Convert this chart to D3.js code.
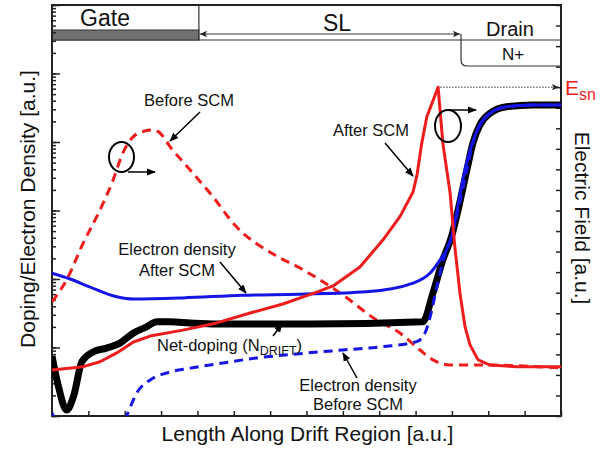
<!DOCTYPE html>
<html>
<head>
<meta charset="utf-8">
<script src="https://cdn.jsdelivr.net/npm/d3@7"></script>
<style>
  body { margin: 0; background: #fff; }
  svg { font-family: Arial, "Liberation Sans", sans-serif; }
</style>
</head>
<body>
<svg id="chart" width="605" height="453"></svg>
<script>
// Values: [position along drift region, value]
// left axis (log): doping / electron density, right axis (linear): electric field
const netDoping = [
  [0, 7.5], [0.17, 2.8], [0.40, 1.22], [0.6, 2.0], [0.82, 6.2], [1.13, 8.6],
  [1.50, 9.8], [1.87, 11.6], [2.23, 16.2], [2.60, 20], [2.88, 23.8], [3.25, 23.8],
  [3.80, 22.8], [4.53, 22.0], [7.10, 22.0], [10.2, 23.8], [10.48, 63], [10.75, 190],
  [10.99, 417], [11.17, 1020], [11.41, 3890], [11.58, 9770], [11.77, 17800],
  [12.05, 26300], [12.5, 32700], [13.23, 34700], [14, 34700]
];

const electronAfter = [
  [0, 122], [0.5, 100], [1.05, 76], [1.78, 55], [2.23, 51], [3.6, 53], [5.25, 58],
  [6.82, 60], [8.65, 65], [9.93, 87], [10.40, 122], [10.67, 189], [10.89, 293],
  [11.02, 470], [11.13, 919], [11.30, 2790], [11.50, 7590], [11.77, 17800],
  [12.05, 26300], [12.5, 32700], [13.23, 34700], [14, 34700]
];

const electronBefore = [
  [0, 1.1], [0.22, 0.63], [1.32, 0.16], [1.93, 0.74], [2.05, 1.0], [2.33, 2.17],
  [2.70, 3.36], [3.15, 4.25], [3.80, 5.0], [4.70, 5.94], [5.63, 7.03], [7.00, 8.3],
  [8.00, 9.2], [9.10, 10.3], [10.03, 12.2], [10.26, 16.3], [10.40, 27.9], [10.58, 74],
  [10.75, 178], [10.99, 417], [11.17, 1020], [11.41, 3890], [11.58, 9770],
  [11.77, 17800], [12.05, 26300], [12.5, 32700], [13.23, 34700], [14, 34700]
];

const fieldBefore = [
  [0, 5.55], [0.40, 6.62], [0.86, 8.42], [1.32, 10.02], [1.68, 11.48], [1.95, 12.8],
  [2.23, 13.58], [2.56, 13.87], [2.78, 13.92], [2.97, 13.77], [3.25, 13.1], [3.80, 11.97],
  [4.43, 10.66], [5.03, 9.29], [6.08, 7.88], [6.82, 7.20], [7.92, 5.99], [8.93, 4.67],
  [9.57, 4.04], [10.12, 3.21], [10.48, 2.73], [10.95, 2.48], [11.85, 2.48], [14, 2.34]
];

const fieldAfter = [
  [0, 2.24], [0.86, 2.40], [1.32, 2.64], [1.78, 3.07], [2.24, 3.60], [2.70, 3.89],
  [3.60, 4.18], [4.53, 4.53], [5.45, 5.01], [6.35, 5.45], [7.28, 6.03], [7.73, 6.33],
  [8.47, 7.25], [9.10, 8.56], [9.57, 9.70], [9.93, 10.90], [10.04, 11.73], [10.17, 13.28],
  [10.31, 14.56], [10.62, 16.0], [10.75, 13.28], [10.95, 10.85], [11.08, 8.24],
  [11.22, 5.99], [11.36, 4.35], [11.50, 3.45], [11.72, 2.73], [12.05, 2.48],
  [12.78, 2.40], [14, 2.40]
];

const majorDecades = [1, 10, 100, 1e3, 1e4, 1e5, 1e6];
const gateEnd = 4.04;      // end of gate region
const drainStart = 11.25;  // start of N+ drain

const svg = d3.select("#chart");
const plotLeft = 52, plotRight = 561, plotTop = 5, plotBottom = 416;

const x = d3.scaleLinear().domain([0, 14]).range([plotLeft, plotRight]);
const yLeft = d3.scaleLog().domain([1, 1e6]).range([plotBottom, plotTop]);
const yRight = d3.scaleLinear().domain([0, 20]).range([plotBottom, plotTop]);

// markers
const defs = svg.append("defs");
defs.append("marker")
  .attr("id", "arrow")
  .attr("viewBox", "0 0 10 10")
  .attr("refX", 9).attr("refY", 5)
  .attr("markerWidth", 9).attr("markerHeight", 9)
  .attr("markerUnits", "userSpaceOnUse")
  .attr("orient", "auto-start-reverse")
  .append("path").attr("d", "M0,1 L10,5 L0,9 Z").attr("fill", "#000");
defs.append("marker")
  .attr("id", "chevron")
  .attr("viewBox", "0 0 10 10")
  .attr("refX", 9).attr("refY", 5)
  .attr("markerWidth", 9).attr("markerHeight", 9)
  .attr("markerUnits", "userSpaceOnUse")
  .attr("orient", "auto-start-reverse")
  .append("path").attr("d", "M1,1.5 L9,5 L1,8.5 L3,5 Z").attr("fill", "#222");
defs.append("clipPath").attr("id", "plot-clip")
  .append("rect")
  .attr("x", plotLeft).attr("y", plotTop)
  .attr("width", plotRight - plotLeft).attr("height", plotBottom - plotTop);

// Draw header (gate / SL / drain)
const header = svg.append("g").attr("stroke", "#333").attr("fill", "none");
header.append("line")
  .attr("x1", plotLeft).attr("x2", plotRight).attr("y1", 40).attr("y2", 40).attr("stroke-width", 1.2);
header.append("rect")
  .attr("x", plotLeft).attr("y", 30).attr("width", x(gateEnd) - plotLeft).attr("height", 10)
  .attr("fill", "#707070").attr("stroke", "#333");
header.append("line")
  .attr("x1", x(gateEnd)).attr("x2", x(gateEnd)).attr("y1", plotTop).attr("y2", 40)
  .attr("stroke-width", 1.2);
header.append("line")
  .attr("x1", x(gateEnd) + 1).attr("x2", x(drainStart) - 1).attr("y1", 34).attr("y2", 34)
  .attr("stroke-width", 1)
  .attr("marker-start", "url(#chevron)")
  .attr("marker-end", "url(#chevron)");
header.append("path")
  .attr("d", `M${x(drainStart)},34 V60 Q${x(drainStart)},66 ${x(drainStart) + 6},66 H${plotRight}`)
  .attr("stroke-width", 1.2);

const headerText = svg.append("g").attr("fill", "#111").attr("text-anchor", "middle");
headerText.append("text").attr("x", 105).attr("y", 26).attr("font-size", 23).text("Gate");
headerText.append("text").attr("x", 337).attr("y", 31).attr("font-size", 23).text("SL");
headerText.append("text").attr("x", 510).attr("y", 36).attr("font-size", 20).text("Drain");
headerText.append("text").attr("x", 513).attr("y", 60).attr("font-size", 17).text("N+");

// Axes (ticks point inward)
function styleAxis(g) {
  g.select(".domain").remove();
  g.selectAll(".tick line").attr("stroke", "#222").attr("stroke-width", 1.5);
}

svg.append("g")
  .attr("transform", `translate(${plotLeft},0)`)
  .call(d3.axisRight(yLeft).tickValues(yLeft.ticks()).tickSize(4).tickFormat(""))
  .call(styleAxis);
svg.append("g")
  .attr("transform", `translate(${plotLeft},0)`)
  .call(d3.axisRight(yLeft).tickValues(majorDecades).tickSize(8).tickFormat(""))
  .call(styleAxis);
svg.append("g")
  .attr("transform", `translate(${plotRight},0)`)
  .call(d3.axisLeft(yRight).ticks(20).tickSize(5).tickFormat(""))
  .call(styleAxis);
svg.append("g")
  .attr("transform", `translate(0,${plotBottom})`)
  .call(d3.axisTop(x).ticks(14).tickSize(5).tickFormat(""))
  .call(styleAxis);

svg.append("rect")
  .attr("x", plotLeft).attr("y", plotTop)
  .attr("width", plotRight - plotLeft).attr("height", plotBottom - plotTop)
  .attr("fill", "none").attr("stroke", "#222").attr("stroke-width", 2);

// Draw curves
const plot = svg.append("g").attr("clip-path", "url(#plot-clip)");

const lineLeft = d3.line()
  .x(d => x(d[0])).y(d => yLeft(d[1]))
  .curve(d3.curveMonotoneX);
const lineRight = d3.line()
  .x(d => x(d[0])).y(d => yRight(d[1]))
  .curve(d3.curveMonotoneX);

plot.append("path").datum(fieldBefore)
  .attr("d", lineRight)
  .attr("fill", "none").attr("stroke", "#ee1c1c").attr("stroke-width", 3)
  .attr("stroke-dasharray", "9,6");

plot.append("path").datum(netDoping)
  .attr("d", lineLeft)
  .attr("fill", "none").attr("stroke", "#000").attr("stroke-width", 7)
  .attr("stroke-linejoin", "round");

plot.append("path").datum(electronBefore)
  .attr("d", lineLeft)
  .attr("fill", "none").attr("stroke", "#1515e6").attr("stroke-width", 3)
  .attr("stroke-dasharray", "9,6");

plot.append("path").datum(electronAfter)
  .attr("d", lineLeft)
  .attr("fill", "none").attr("stroke", "#1515e6").attr("stroke-width", 3);

plot.append("path").datum(fieldAfter)
  .attr("d", d3.line().x(d => x(d[0])).y(d => yRight(d[1])))
  .attr("fill", "none").attr("stroke", "#ee1c1c").attr("stroke-width", 3)
  .attr("stroke-linejoin", "round");

// Esn marker: dotted line from the peak of the field after SCM to the right axis
const peak = fieldAfter.reduce((a, b) => (b[1] > a[1] ? b : a));
svg.append("line")
  .attr("x1", x(peak[0]) + 2).attr("x2", plotRight - 2)
  .attr("y1", yRight(peak[1])).attr("y2", yRight(peak[1]))
  .attr("stroke", "#333").attr("stroke-width", 1).attr("stroke-dasharray", "1.5,1.5")
  .attr("marker-end", "url(#chevron)");

const esn = svg.append("text")
  .attr("x", 565).attr("y", 95)
  .attr("fill", "#ee1c1c").attr("font-size", 21)
  .text("E");
esn.append("tspan").attr("dy", 5).attr("font-size", 16).text("sn");

// Annotations
const notes = svg.append("g").attr("fill", "#111").attr("font-size", 16.5).attr("text-anchor", "middle");
notes.append("text").attr("x", 189).attr("y", 106).text("Before SCM");
notes.append("text").attr("x", 371).attr("y", 136).text("After SCM");
notes.append("text").attr("x", 177).attr("y", 255).text("Electron density");
notes.append("text").attr("x", 177).attr("y", 276).text("After SCM");
notes.append("text").attr("x", 358).attr("y", 391).text("Electron density");
notes.append("text").attr("x", 358).attr("y", 410).text("Before SCM");

const netLabel = notes.append("text")
  .attr("x", 157).attr("y", 351).attr("text-anchor", "start")
  .text("Net-doping (N");
netLabel.append("tspan").attr("dy", 4).attr("font-size", 12.5).text("DRIFT");
netLabel.append("tspan").attr("dy", -4).text(")");

const arrows = [
  [[200, 112], [170, 141]],
  [[385, 143], [413, 176]],
  [[220, 262], [246, 293]],
  [[273, 336], [282, 324]],
  [[357, 378], [343, 353]],
  [[128, 172], [155, 172]],
  [[449, 110], [476, 110]]
];
svg.append("g").selectAll("line")
  .data(arrows)
  .join("line")
  .attr("x1", d => d[0][0]).attr("y1", d => d[0][1])
  .attr("x2", d => d[1][0]).attr("y2", d => d[1][1])
  .attr("stroke", "#000").attr("stroke-width", 1.5)
  .attr("marker-end", "url(#arrow)");

svg.append("ellipse")
  .attr("cx", 121.5).attr("cy", 157).attr("rx", 12.5).attr("ry", 15)
  .attr("fill", "none").attr("stroke", "#000").attr("stroke-width", 2);
svg.append("ellipse")
  .attr("cx", 448).attr("cy", 126).attr("rx", 13).attr("ry", 16)
  .attr("fill", "none").attr("stroke", "#000").attr("stroke-width", 2);

// Axis titles
svg.append("text")
  .attr("x", (plotLeft + plotRight) / 2 + 1).attr("y", 441)
  .attr("text-anchor", "middle").attr("font-size", 21).attr("fill", "#111")
  .text("Length Along Drift Region [a.u.]");
svg.append("text")
  .attr("transform", "translate(35,209) rotate(-90)")
  .attr("text-anchor", "middle").attr("font-size", 21).attr("fill", "#111")
  .text("Doping/Electron Density [a.u.]");
svg.append("text")
  .attr("transform", "translate(575,218) rotate(90)")
  .attr("text-anchor", "middle").attr("font-size", 21).attr("fill", "#111")
  .text("Electric Field [a.u.]");
</script>
</body>
</html>
